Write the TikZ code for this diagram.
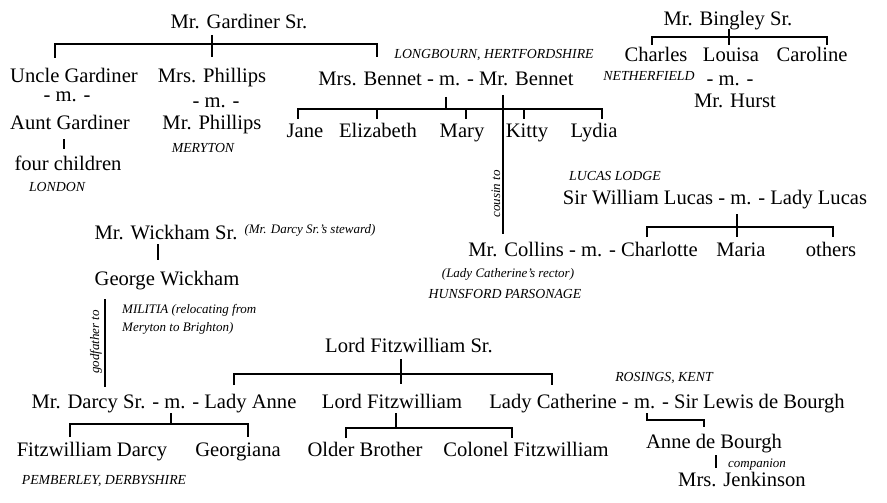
\documentclass[tikz,border=0pt]{standalone}
\usepackage{fontspec}
\setmainfont{Liberation Serif}
\tikzset{
  person/.style={font=\fontsize{20.6}{24}\selectfont, inner sep=0pt, anchor=base},
  place/.style={font=\fontsize{13.8}{16}\selectfont\itshape, inner sep=0pt, anchor=base},
  remark/.style={font=\fontsize{13}{15}\selectfont\itshape, inner sep=0pt, anchor=base},
  link/.style={line width=1.1pt}
}
\begin{document}
\begin{tikzpicture}[x=1pt, y=-1pt]
  \useasboundingbox (0,0) rectangle (887,503);

  % Gardiner family
  \node[person] (gardsr) at (239,29) {Mr. Gardiner Sr.};
  \node[person] (uncle) at (74,83) {Uncle Gardiner};
  \node[person] (unclem) at (67,102) {- m. -};
  \node[person] (aunt) at (70,129) {Aunt Gardiner};
  \node[person] (fourkids) at (68,170) {four children};
  \node[place] (london) at (57,191) {LONDON};
  \node[person] (mrsphil) at (212,83) {Mrs. Phillips};
  \node[person] (philm) at (216,107) {- m. -};
  \node[person] (mrphil) at (212,129) {Mr. Phillips};
  \node[place] (meryton) at (203,153) {MERYTON};

  \coordinate (gard-a) at (212,35);
  \coordinate (gard-j) at (212,44);
  \coordinate (gard-b) at (212,57);
  \coordinate (uncle-t) at (55,58);
  \coordinate (bennet-t) at (377,57);
  \draw[link] (gard-a) -- (gard-b);
  \draw[link] (uncle-t) |- (gard-j) -| (bennet-t);
  \coordinate (aunt-b) at (64,139);
  \coordinate (kids-t) at (64,149);
  \draw[link] (aunt-b) -- (kids-t);

  % Bennet family
  \node[place] (longbourn) at (494,59) {LONGBOURN, HERTFORDSHIRE};
  \node[person] (bennet) at (446,86) {Mrs. Bennet - m. - Mr. Bennet};
  \node[person] (jane) at (305,137) {Jane};
  \node[person] (eliz) at (378,137) {Elizabeth};
  \node[person] (mary) at (462,137) {Mary};
  \node[person] (kitty) at (527,137) {Kitty};
  \node[person] (lydia) at (594,137) {Lydia};

  \coordinate (bennet-a) at (446,97);
  \coordinate (bennet-j) at (446,109);
  \coordinate (jane-t) at (298,119);
  \coordinate (eliz-t) at (377,119);
  \coordinate (mary-t) at (466,119);
  \coordinate (kitty-t) at (524,119);
  \coordinate (lydia-t) at (602,119);
  \draw[link] (bennet-a) -- (bennet-j);
  \draw[link] (jane-t) |- (bennet-j) -| (lydia-t);
  \foreach \c in {eliz-t,mary-t,kitty-t}
    \draw[link] (\c |- bennet-j) -- (\c);

  % cousin
  \coordinate (mrbennet-b) at (503,95);
  \coordinate (collins-t) at (503,234);
  \draw[link] (mrbennet-b) -- (collins-t);
  \node[remark, rotate=90, anchor=center] (cousin) at (496,194) {cousin to};

  % Bingley family
  \node[person] (bingsr) at (728,26) {Mr. Bingley Sr.};
  \node[person] (charles) at (656,62) {Charles};
  \node[person] (louisa) at (731,62) {Louisa};
  \node[person] (caroline) at (812,62) {Caroline};
  \node[place] (netherfield) at (649,81) {NETHERFIELD};
  \node[person] (louisam) at (730,85) {- m. -};
  \node[person] (hurst) at (735,107) {Mr. Hurst};

  \coordinate (bing-a) at (729,29);
  \coordinate (bing-j) at (729,37);
  \coordinate (bing-b) at (729,45);
  \coordinate (charles-t) at (652,45);
  \coordinate (caroline-t) at (827,45);
  \draw[link] (bing-a) -- (bing-b);
  \draw[link] (charles-t) |- (bing-j) -| (caroline-t);

  % Lucas family
  \node[place] (lucaslodge) at (615,180) {LUCAS LODGE};
  \node[person] (lucas) at (715,204) {Sir William Lucas - m. - Lady Lucas};
  \node[person] (collins) at (583,256) {Mr. Collins - m. - Charlotte};
  \node[person] (maria) at (741,256) {Maria};
  \node[person] (others) at (831,256) {others};
  \node[remark] (rector) at (508,277) {(Lady Catherine's rector)};
  \node[place] (hunsford) at (505,298) {HUNSFORD PARSONAGE};

  \coordinate (lucas-a) at (737,214);
  \coordinate (lucas-j) at (737,227);
  \coordinate (lucas-b) at (737,237);
  \coordinate (charlotte-t) at (647,237);
  \coordinate (others-t) at (833,237);
  \draw[link] (lucas-a) -- (lucas-b);
  \draw[link] (charlotte-t) |- (lucas-j) -| (others-t);

  % Wickham
  \node[person] (wicksr) at (166,239) {Mr. Wickham Sr.};
  \node[remark] (steward) at (310,233) {(Mr. Darcy Sr.'s steward)};
  \node[person] (george) at (167,285) {George Wickham};
  \node[remark, anchor=base west] (militia) at (122,313) {MILITIA (relocating from};
  \node[remark, anchor=base west] (militiab) at (122,331) {Meryton to Brighton)};

  \coordinate (wick-a) at (158,244);
  \coordinate (wick-b) at (158,260);
  \draw[link] (wick-a) -- (wick-b);
  \coordinate (george-b) at (105,299);
  \coordinate (darcy-t) at (105,387);
  \draw[link] (george-b) -- (darcy-t);
  \node[remark, rotate=90, anchor=center] (godfather) at (96,342) {godfather to};

  % Fitzwilliam family
  \node[person] (fitzsr) at (409,352) {Lord Fitzwilliam Sr.};
  \node[place] (rosings) at (664,381) {ROSINGS, KENT};
  \node[person] (darcysr) at (164,408) {Mr. Darcy Sr. - m. - Lady Anne};
  \node[person] (lordfitz) at (392,408) {Lord Fitzwilliam};
  \node[person] (catherine) at (667,408) {Lady Catherine - m. - Sir Lewis de Bourgh};
  \node[person] (fitzdarcy) at (92,456) {Fitzwilliam Darcy};
  \node[person] (georgiana) at (238,456) {Georgiana};
  \node[place] (pemberley) at (104,484) {PEMBERLEY, DERBYSHIRE};
  \node[person] (older) at (365,456) {Older Brother};
  \node[person] (colonel) at (526,456) {Colonel Fitzwilliam};
  \node[person] (annedb) at (714,448) {Anne de Bourgh};
  \node[remark] (companion) at (757,467) {companion};
  \node[person] (jenkinson) at (742,486) {Mrs. Jenkinson};

  \coordinate (fitz-a) at (401,359);
  \coordinate (fitz-j) at (401,374);
  \coordinate (fitz-b) at (401,384);
  \coordinate (anne-t) at (234,385);
  \coordinate (cath-t) at (552,385);
  \draw[link] (fitz-a) -- (fitz-b);
  \draw[link] (anne-t) |- (fitz-j) -| (cath-t);

  \coordinate (darcy-a) at (171,413);
  \coordinate (darcy-j) at (171,424);
  \coordinate (fd-t) at (70,437);
  \coordinate (geo-t) at (248,437);
  \draw[link] (darcy-a) -- (darcy-j);
  \draw[link] (fd-t) |- (darcy-j) -| (geo-t);

  \coordinate (lf-a) at (396,413);
  \coordinate (lf-j) at (396,428);
  \coordinate (older-t) at (346,438);
  \coordinate (colonel-t) at (512,438);
  \draw[link] (lf-a) -- (lf-j);
  \draw[link] (older-t) |- (lf-j) -| (colonel-t);

  \coordinate (cath-m) at (647,413);
  \coordinate (anne-j) at (704,420);
  \coordinate (annedb-t) at (704,427);
  \draw[link] (cath-m) |- (anne-j) -- (annedb-t);
  \coordinate (annedb-b) at (716,455);
  \coordinate (jenk-t) at (716,468);
  \draw[link] (annedb-b) -- (jenk-t);
\end{tikzpicture}
\end{document}
